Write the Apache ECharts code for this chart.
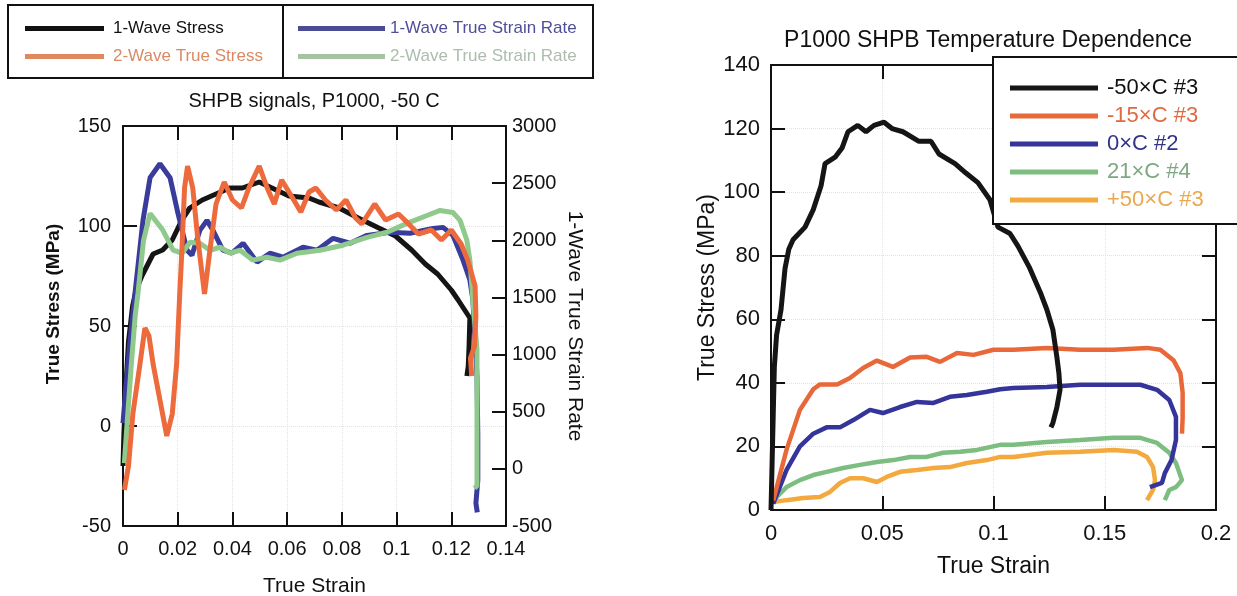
<!DOCTYPE html>
<html>
<head>
<meta charset="utf-8">
<script src="https://cdn.jsdelivr.net/npm/echarts@6/dist/echarts.min.js"></script>
<style>
  html, body { margin: 0; padding: 0; background: #fff; }
  #chart { width: 1237px; height: 596px; }
</style>
</head>
<body>
<div id="chart"></div>
<script>
// ---- left panel: SHPB signals, P1000, -50 C  ([true strain, value]) ----
const oneWaveStress = [[0,-20],[0.0003,-5],[0.001,18],[0.002,42],[0.0035,60],[0.0048,68],[0.0069,75],[0.011,86],[0.0145,88],[0.018,93],[0.0215,103],[0.0244,109],[0.029,113],[0.034,116],[0.039,119],[0.0436,119],[0.0498,122],[0.056,118],[0.0607,115],[0.068,114],[0.0716,112],[0.079,109],[0.086,104],[0.0935,99],[0.0996,95],[0.1055,88],[0.1105,81],[0.115,76],[0.12,68],[0.1225,63],[0.1268,54],[0.1265,40],[0.1262,30],[0.1257,25]];
const twoWaveStress = [[0.0005,-32],[0.002,-20],[0.0036,6],[0.0062,31],[0.008,49],[0.0095,45],[0.011,31],[0.0135,13],[0.016,-5],[0.018,6],[0.0196,31],[0.0207,65],[0.0215,87],[0.0225,119],[0.0236,130],[0.0255,119],[0.0273,94],[0.0298,66],[0.0316,86],[0.034,111],[0.037,122],[0.04,113],[0.0433,109],[0.046,119],[0.0498,130],[0.0527,119],[0.0553,111],[0.058,123],[0.062,114],[0.065,107],[0.068,117],[0.0705,119],[0.074,113],[0.078,108],[0.0815,113],[0.085,104],[0.0873,101],[0.092,111],[0.096,103],[0.1007,106],[0.103,103],[0.108,96],[0.1127,98],[0.1164,93],[0.12,98],[0.1236,91],[0.126,83],[0.1287,70],[0.129,55],[0.1285,40],[0.127,34],[0.1275,25]];
const oneWaveRate = [[0,400],[0.001,700],[0.0025,1100],[0.0044,1540],[0.0073,2174],[0.0099,2548],[0.0135,2670],[0.0172,2548],[0.0201,2235],[0.0234,1913],[0.0252,1870],[0.0281,2087],[0.0307,2174],[0.0329,2087],[0.0365,1913],[0.0398,1887],[0.0439,1974],[0.049,1809],[0.0537,1887],[0.0585,1852],[0.0658,1939],[0.0709,1913],[0.0768,2017],[0.083,1974],[0.0892,2043],[0.0976,2070],[0.1049,2061],[0.1133,2104],[0.117,2113],[0.1206,2043],[0.1243,1826],[0.1268,1652],[0.1279,1478],[0.1294,810],[0.1297,300],[0.1297,-100],[0.129,-300],[0.1295,-380]];
const twoWaveRate = [[0.0005,50],[0.0015,400],[0.003,900],[0.0045,1350],[0.0055,1540],[0.0075,2000],[0.0099,2235],[0.0146,2087],[0.0183,1913],[0.0216,1887],[0.0245,1983],[0.0281,1974],[0.0318,1913],[0.0355,1939],[0.0391,1887],[0.0428,1913],[0.0475,1826],[0.0526,1852],[0.0574,1826],[0.0636,1887],[0.072,1913],[0.0804,1957],[0.0892,2026],[0.0965,2070],[0.1038,2148],[0.1111,2217],[0.1159,2261],[0.1206,2243],[0.1232,2174],[0.1257,2000],[0.1268,1826],[0.1279,1478],[0.1294,1043],[0.1294,435],[0.1294,-148],[0.1285,-170]];

// ---- right panel: temperature dependence ([true strain, true stress MPa]) ----
const minus50 = [[0,0],[0.0005,15],[0.001,30],[0.0015,45],[0.0025,55],[0.0045,63],[0.0063,76],[0.008,82],[0.0099,85],[0.0153,89],[0.019,94.5],[0.0225,102],[0.0243,109],[0.0288,111],[0.032,114],[0.0346,119],[0.039,121],[0.0427,119],[0.0463,121],[0.0508,122],[0.0544,120],[0.0593,119],[0.0665,116],[0.0719,116],[0.0755,112],[0.0827,109],[0.0876,106],[0.093,103],[0.0984,97.6],[0.102,89],[0.1074,87],[0.111,83],[0.116,76.5],[0.1213,68],[0.124,63],[0.1267,56.7],[0.1285,48],[0.1294,43],[0.1299,37.8],[0.1285,32.4],[0.1267,27.4],[0.1258,26]];
const minus15 = [[0.001,3],[0.007,19],[0.013,31.5],[0.019,38],[0.022,39.5],[0.0297,39.5],[0.0355,41.5],[0.0414,44.7],[0.0476,47],[0.0548,45],[0.0625,48],[0.07,48.2],[0.076,46.6],[0.0836,49.4],[0.091,48.8],[0.1,50.4],[0.109,50.4],[0.124,51],[0.139,50.4],[0.154,50.4],[0.169,51],[0.175,50.4],[0.181,47],[0.184,43],[0.185,37],[0.185,29],[0.1847,24]];
const zero = [[0.001,2],[0.007,12.6],[0.013,20],[0.019,24],[0.025,26],[0.031,26],[0.037,28.3],[0.0445,31.5],[0.0503,30.5],[0.058,32.4],[0.0656,34],[0.073,33.7],[0.0804,35.6],[0.088,36.2],[0.097,37.2],[0.103,38],[0.109,38.4],[0.124,38.7],[0.139,39.4],[0.154,39.4],[0.166,39.4],[0.1735,37.8],[0.179,34.6],[0.182,29.3],[0.182,22],[0.18,15.7],[0.177,11.6],[0.1757,8.5],[0.1703,7.2]];
const plus21 = [[0.001,3],[0.007,7.2],[0.013,9.4],[0.019,11],[0.025,12],[0.0324,13.2],[0.04,14.2],[0.0476,15.1],[0.055,15.7],[0.0625,16.7],[0.07,16.7],[0.0773,18],[0.085,18.3],[0.0926,18.9],[0.103,20.5],[0.109,20.5],[0.124,21.4],[0.139,22],[0.154,22.7],[0.166,22.7],[0.1735,21.1],[0.179,18],[0.182,14.8],[0.1847,9.4],[0.182,7.2],[0.179,6.3],[0.177,3.1]];
const plus50 = [[0.001,2.5],[0.007,3.1],[0.0144,3.8],[0.022,4.1],[0.0265,5.7],[0.031,8.5],[0.0355,10],[0.0414,10],[0.0476,8.8],[0.052,10.4],[0.058,12],[0.0656,12.6],[0.073,13.2],[0.0804,13.5],[0.088,14.8],[0.097,15.7],[0.103,16.7],[0.109,16.7],[0.124,18],[0.139,18.3],[0.154,18.9],[0.1645,18.3],[0.169,16.7],[0.1717,13.5],[0.1726,9.4],[0.1717,6.3],[0.169,3.1]];

const FONT = "'Liberation Sans', Arial, sans-serif";
const INK = "#111";

const chart = echarts.init(document.getElementById("chart"));

const frameAxis = (extra) => ({
  type: "value",
  axisLine: { show: true, onZero: false, lineStyle: { color: INK, width: 2 } },
  axisTick: { show: true, inside: true, length: 14, lineStyle: { color: INK, width: 2 } },
  splitLine: { show: false },
  ...extra,
});
const mirror = (extra) => frameAxis({ axisLabel: { show: false }, ...extra });
// plain numbers, no thousands separators
const fmt = (v) => String(parseFloat(v.toFixed(3)));
const dotted = { show: true, lineStyle: { color: "#e2e2e2", type: "dotted", width: 1 } };

const line = (name, data, color, x, y, width) => ({
  type: "line",
  name,
  data,
  xAxisIndex: x,
  yAxisIndex: y,
  showSymbol: false,
  symbol: "none",
  color,
  lineStyle: { color, width },
  itemStyle: { color },
  animation: false,
});

const options = {
  backgroundColor: "#fff",
  textStyle: { fontFamily: FONT },
  title: [
    {
      text: "SHPB signals, P1000, -50 C",
      left: 309,
      top: 86,
      textAlign: "center",
      textStyle: { fontFamily: FONT, fontSize: 20, fontWeight: "normal", color: INK },
    },
    {
      text: "P1000 SHPB Temperature Dependence",
      left: 983,
      top: 24,
      textAlign: "center",
      textStyle: { fontFamily: FONT, fontSize: 23, fontWeight: "normal", color: INK },
    },
  ],
  legend: [
    {
      left: 25,
      top: 20,
      orient: "vertical",
      icon: "rect",
      itemWidth: 79,
      itemHeight: 5,
      itemGap: 11,
      padding: 0,
      selectedMode: false,
      textStyle: { fontFamily: FONT, fontSize: 17, padding: [0, 0, 0, 4] },
      data: [
        { name: "1-Wave Stress", itemStyle: { color: "#111" }, textStyle: { color: "#111" } },
        { name: "2-Wave True Stress", itemStyle: { color: "#e0895f" }, textStyle: { color: "#d98a64" } },
      ],
    },
    {
      left: 298,
      top: 20,
      orient: "vertical",
      icon: "rect",
      itemWidth: 87,
      itemHeight: 5,
      itemGap: 11,
      padding: 0,
      selectedMode: false,
      textStyle: { fontFamily: FONT, fontSize: 17 },
      data: [
        { name: "1-Wave True Strain Rate", itemStyle: { color: "#4b4c92" }, textStyle: { color: "#4f4f99" } },
        { name: "2-Wave True Strain Rate", itemStyle: { color: "#a6c4a2" }, textStyle: { color: "#aebcae" } },
      ],
    },
    {
      left: 993,
      top: 57,
      orient: "vertical",
      icon: "rect",
      itemWidth: 88,
      itemHeight: 5,
      itemGap: 6,
      padding: [20, 60, 13, 17],
      borderColor: INK,
      borderWidth: 2,
      backgroundColor: "#fff",
      selectedMode: false,
      textStyle: { fontFamily: FONT, fontSize: 22, padding: [0, 0, 0, 4] },
      data: [
        { name: "-50×C #3", textStyle: { color: "#111" } },
        { name: "-15×C #3", textStyle: { color: "#e06a40" } },
        { name: "0×C #2", textStyle: { color: "#33338a" } },
        { name: "21×C #4", textStyle: { color: "#7fa882" } },
        { name: "+50×C #3", textStyle: { color: "#eaa850" } },
      ],
    },
  ],
  graphic: [
    { type: "rect", shape: { x: 8, y: 5, width: 585, height: 73 }, style: { fill: "none", stroke: INK, lineWidth: 2 } },
    { type: "line", shape: { x1: 283, y1: 5, x2: 283, y2: 78 }, style: { stroke: INK, lineWidth: 2 } },
  ],
  grid: [
    { left: 123, top: 126, width: 383, height: 400, outerBoundsMode: "none" },
    { left: 771, top: 65, width: 445, height: 445, outerBoundsMode: "none" },
  ],
  xAxis: [
    frameAxis({
      gridIndex: 0, position: "bottom", min: 0, max: 0.14, interval: 0.02,
      splitLine: dotted,
      axisLabel: { fontFamily: FONT, fontSize: 20, color: INK, margin: 13, formatter: fmt },
      name: "True Strain", nameLocation: "middle", nameGap: 50,
      nameTextStyle: { fontFamily: FONT, fontSize: 21, color: INK },
    }),
    mirror({ gridIndex: 0, position: "top", min: 0, max: 0.14, interval: 0.02 }),
    frameAxis({
      gridIndex: 1, position: "bottom", min: 0, max: 0.2, interval: 0.05,
      splitLine: dotted,
      axisLabel: { fontFamily: FONT, fontSize: 22, color: INK, margin: 13, formatter: fmt },
      name: "True Strain", nameLocation: "middle", nameGap: 45,
      nameTextStyle: { fontFamily: FONT, fontSize: 23, color: INK },
    }),
    mirror({ gridIndex: 1, position: "top", min: 0, max: 0.2, interval: 0.05 }),
  ],
  yAxis: [
    frameAxis({
      gridIndex: 0, position: "left", min: -50, max: 150, interval: 50,
      splitLine: dotted,
      axisLabel: { fontFamily: FONT, fontSize: 20, color: INK, margin: 12, formatter: fmt },
      name: "True Stress (MPa)", nameLocation: "middle", nameGap: 60,
      nameTextStyle: { fontFamily: FONT, fontSize: 19, fontWeight: "bold", color: INK, padding: [0, 0, 0, 44] },
    }),
    frameAxis({
      gridIndex: 0, position: "right", min: -500, max: 3000, interval: 500,
      axisLabel: { fontFamily: FONT, fontSize: 20, color: INK, margin: 6, formatter: fmt },
      name: "1-Wave True Strain Rate", nameLocation: "middle", nameGap: 58, nameRotate: -90,
      nameTextStyle: { fontFamily: FONT, fontSize: 21, color: INK },
    }),
    frameAxis({
      gridIndex: 1, position: "left", min: 0, max: 140, interval: 20,
      splitLine: dotted,
      axisLabel: { fontFamily: FONT, fontSize: 22, color: INK, margin: 11, formatter: fmt },
      name: "True Stress (MPa)", nameLocation: "middle", nameGap: 52,
      nameTextStyle: { fontFamily: FONT, fontSize: 23, color: INK },
    }),
    mirror({ gridIndex: 1, position: "right", min: 0, max: 140, interval: 20 }),
  ],
  series: [
    line("1-Wave Stress", oneWaveStress, "#151515", 0, 0, 5),
    line("1-Wave True Strain Rate", oneWaveRate, "#3a3c9c", 0, 1, 5),
    line("2-Wave True Strain Rate", twoWaveRate, "#8fca8c", 0, 1, 5),
    line("2-Wave True Stress", twoWaveStress, "#ec6a3c", 0, 0, 5),
    line("+50×C #3", plus50, "#f3a93e", 2, 2, 4.5),
    line("21×C #4", plus21, "#7dbd80", 2, 2, 4.5),
    line("0×C #2", zero, "#34349a", 2, 2, 4.5),
    line("-15×C #3", minus15, "#e8683a", 2, 2, 4.5),
    line("-50×C #3", minus50, "#151515", 2, 2, 5),
  ],
};

chart.setOption(options);
</script>
</body>
</html>
